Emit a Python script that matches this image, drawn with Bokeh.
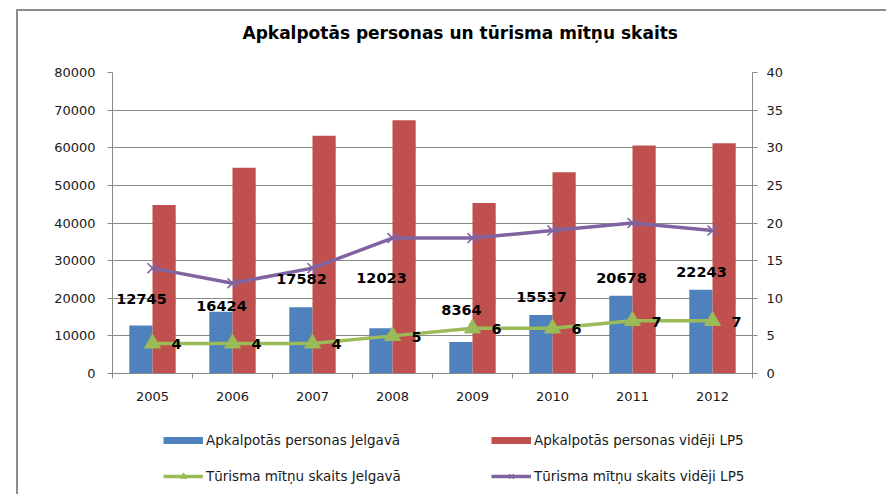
import numpy as np
from bokeh.plotting import figure
from bokeh.layouts import column
from bokeh.models import (Range1d, LinearAxis, FixedTicker, Legend, LegendItem,
                          ColumnDataSource, Title, SingleIntervalTicker)
from bokeh.core.properties import value
from bokeh.embed import file_html
from bokeh.resources import INLINE

# ---- data ----
years = ["2005", "2006", "2007", "2008", "2009", "2010", "2011", "2012"]
served_jelgava = [12745, 16424, 17582, 12023, 8364, 15537, 20678, 22243]
served_lp5 = [44800, 54700, 63200, 67300, 45300, 53500, 60600, 61200]
places_jelgava = [4, 4, 4, 5, 6, 6, 7, 7]
places_lp5 = [14, 12, 14, 18, 18, 19, 20, 19]
# heights (left-axis units) at which the Jelgava value labels sit in the original
jelgava_label_anchor = [19900, 17900, 25200, 25500, 16800, 20200, 25400, 26900]

title_text = "Apkalpotās personas un tūrisma mītņu skaits"
legend_labels = ["Apkalpotās personas Jelgavā", "Apkalpotās personas vidēji LP5",
                 "Tūrisma mītņu skaits Jelgavā", "Tūrisma mītņu skaits vidēji LP5"]

BLUE = "#4F81BD"
RED = "#C0504D"
GREEN = "#9BBB59"
PURPLE = "#8064A2"
GRID = "#8a8a8a"
TXT = "#1a1a1a"
FONT = "DejaVu Sans"

xc = np.arange(1, len(years) + 1)
bw = 0.29

src = ColumnDataSource(dict(
    xc=xc, xb=xc - bw / 2, xr=xc + bw / 2,
    sj=served_jelgava, sl=served_lp5, pj=places_jelgava, pl=places_lp5,
    sj_lab=[str(v) for v in served_jelgava], pj_lab=[str(v) for v in places_jelgava],
    anchor=jelgava_label_anchor,
))

p = figure(frame_width=640, frame_height=301, title=None,
           min_border_left=94, min_border_right=134, min_border_top=61, min_border_bottom=45,
           x_range=Range1d(0.5, len(years) + 0.5), y_range=Range1d(0, 80000),
           output_backend="svg", toolbar_location=None,
           background_fill_color="white", border_fill_color="white")
p.outline_line_color = None
p.extra_y_ranges = {"right": Range1d(0, 40)}

# title (a blank spacer title keeps the real one away from the plot area)
p.add_layout(Title(text=" ", text_font_size="24px", standoff=0, text_font=FONT), "above")
p.add_layout(Title(text=title_text, align="left", offset=130, standoff=0,
                   text_font=FONT, text_font_size="17px", text_font_style="bold",
                   text_color="black"), "above")

# grid
p.xgrid.grid_line_color = None
p.ygrid.grid_line_color = GRID
p.ygrid.grid_line_width = 1
p.yaxis.ticker = SingleIntervalTicker(interval=10000, num_minor_ticks=0)
p.ygrid.ticker = SingleIntervalTicker(interval=10000, num_minor_ticks=0)

# bars
p.vbar(x="xb", top="sj", width=bw, bottom=0, source=src, fill_color=BLUE, line_color=None)
p.vbar(x="xr", top="sl", width=bw, bottom=0, source=src, fill_color=RED, line_color=None)

# lines (right axis)
p.line("xc", "pl", source=src, y_range_name="right", line_color=PURPLE, line_width=3.5)
p.scatter("xc", "pl", source=src, y_range_name="right", marker="x", size=14,
          line_color=PURPLE, line_width=1.6)
p.line("xc", "pj", source=src, y_range_name="right", line_color=GREEN, line_width=3.5)
p.scatter("xc", "pj", source=src, y_range_name="right", marker="triangle", size=16,
          fill_color=GREEN, line_color=GREEN)

# data labels
p.text(x="xc", y="anchor", text="sj_lab", source=src, x_offset=-11,
       text_align="center", text_baseline="middle", text_font=value(FONT),
       text_font_style="bold", text_font_size="14.5px", text_color="black")
p.text(x="xc", y="pj", text="pj_lab", source=src, y_range_name="right", x_offset=24, y_offset=1,
       text_align="center", text_baseline="middle", text_font=value(FONT),
       text_font_style="bold", text_font_size="14.5px", text_color="black")

# axes
xa = p.xaxis[0]
xa.ticker = FixedTicker(ticks=list(xc), minor_ticks=list(np.arange(0.5, len(years) + 1, 1.0)))
xa.major_label_overrides = {int(i): y for i, y in zip(xc, years)}
xa.major_tick_out = 0
xa.major_tick_in = 0
xa.minor_tick_out = 5
xa.minor_tick_in = 0
xa.minor_tick_line_color = GRID
xa.axis_line_color = GRID
xa.major_label_standoff = 13
xa.major_label_text_font = FONT
xa.major_label_text_font_size = "13px"
xa.major_label_text_color = TXT

ya = p.yaxis[0]
ya.axis_line_color = GRID
ya.major_tick_line_color = GRID
ya.major_tick_out = 5
ya.major_tick_in = 0
ya.minor_tick_line_color = None
ya.major_label_standoff = 12
ya.major_label_text_font = FONT
ya.major_label_text_font_size = "13px"
ya.major_label_text_color = TXT
ya.formatter.use_scientific = False

ra = LinearAxis(y_range_name="right", ticker=SingleIntervalTicker(interval=5, num_minor_ticks=0))
ra.axis_line_color = GRID
ra.major_tick_line_color = GRID
ra.major_tick_out = 5
ra.major_tick_in = 0
ra.minor_tick_line_color = None
ra.major_label_standoff = 9
ra.major_label_text_font = FONT
ra.major_label_text_font_size = "13px"
ra.major_label_text_color = TXT
p.add_layout(ra, "right")

# ---- legend strip (separate figure below the chart; its ranges keep the
#      proxy glyphs out of view so only their legend swatches show) ----
q = figure(width=868, height=76, x_range=Range1d(100, 101), y_range=Range1d(-2, -1),
           min_border=0, output_backend="svg", toolbar_location=None,
           background_fill_color="white", border_fill_color="white")
q.axis.visible = False
q.grid.visible = False
q.outline_line_color = None
lb = q.line("xc", "sj", source=src, line_color=BLUE, line_width=7)
lr = q.line("xc", "sl", source=src, line_color=RED, line_width=7)
lg_l = q.line("xc", "pj", source=src, line_color=GREEN, line_width=3.5)
lg_m = q.scatter("xc", "pj", source=src, marker="triangle", fill_color=GREEN, line_color=GREEN)
lp_l = q.line("xc", "pl", source=src, line_color=PURPLE, line_width=3.5)
lp_m = q.scatter("xc", "pl", source=src, marker="x", line_color=PURPLE, line_width=1.2)

legend = Legend(items=[
    LegendItem(label=legend_labels[0], renderers=[lb]),
    LegendItem(label=legend_labels[1], renderers=[lr]),
    LegendItem(label=legend_labels[2], renderers=[lg_l, lg_m]),
    LegendItem(label=legend_labels[3], renderers=[lp_l, lp_m]),
], ncols=2, location=(51, 10), orientation="horizontal")
legend.glyph_width = 40
legend.glyph_height = 16
legend.label_height = 16
legend.label_width = 265
legend.label_standoff = 3
legend.spacing = 20
legend.padding = 0
legend.margin = 0
legend.border_line_color = None
legend.background_fill_alpha = 0
legend.label_text_font = FONT
legend.label_text_font_size = "13.5px"
legend.label_text_color = TXT
q.add_layout(legend, "center")

lay = column(p, q, spacing=0)
lay.margin = (9, 0, 0, 16)
lay.styles = {"border-top": "2px solid #8c8c8c", "border-left": "2px solid #8c8c8c"}

open("out.html", "w").write(file_html(lay, INLINE))
